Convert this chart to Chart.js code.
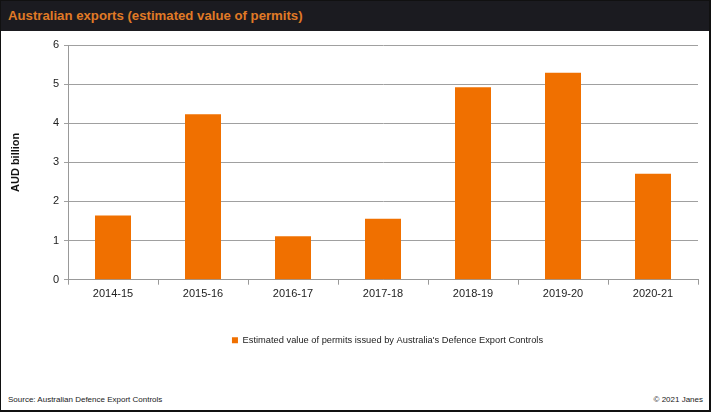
<!DOCTYPE html>
<html>
  <head>
    <meta charset="UTF-8" />
    <title>Australian exports (estimated value of permits)</title>
    <style>
      html, body { margin: 0; padding: 0; background: #fff; }
      #frame {
        position: relative;
        width: 711px;
        height: 412px;
        box-sizing: border-box;
        border: 1px solid #111;
        border-right-width: 2px;
        border-bottom-width: 2px;
        font-family: "Liberation Sans", Arial, sans-serif;
        overflow: hidden;
      }
      #header {
        position: absolute;
        left: 0; top: 0; right: 0;
        height: 30px;
        background: #1b1b20;
      }
      #header h1 {
        margin: 0;
        padding: 7px 0 0 7px;
        font-size: 13.2px;
        font-weight: bold;
        color: #e07a26;
        line-height: 16px;
      }
      #chartBox {
        position: absolute;
        left: 0; top: 29px;
        width: 708px;
        height: 340px;
      }
      .foot {
        position: absolute;
        top: 394px;
        font-size: 8px;
        color: #222;
      }
      #source { left: 7px; }
      #copy { right: 6px; }
    </style>
  </head>
  <body>
    <div id="frame">
      <div id="header"><h1>Australian exports (estimated value of permits)</h1></div>
      <div id="chartBox"><canvas id="chart"></canvas></div>
      <div class="foot" id="source">Source: Australian Defence Export Controls</div>
      <div class="foot" id="copy">© 2021 Janes</div>
    </div>
    <script src="https://cdn.jsdelivr.net/npm/chart.js"></script>
    <script>
      // Data
      const years = ['2014-15', '2015-16', '2016-17', '2017-18', '2018-19', '2019-20', '2020-21'];
      const permitValues = [1.64, 4.23, 1.11, 1.56, 4.92, 5.29, 2.71];
      const yTicks = [0, 1, 2, 3, 4, 5, 6];
      const seriesName = "Estimated value of permits issued by Australia's Defence Export Controls";

      // Legend in the original sits a bit right of centre
      const shiftLegend = {
        id: 'shiftLegend',
        afterLayout(chart) {
          chart.legend.left += 38;
          chart.legend.right += 38;
        },
      };

      const ctx = document.getElementById('chart').getContext('2d');
      const exportsChart = new Chart(ctx, {
        type: 'bar',
        data: {
          labels: years,
          datasets: [
            {
              label: seriesName,
              data: permitValues,
              backgroundColor: '#f07000',
              borderWidth: 0,
              categoryPercentage: 1,
              barPercentage: 0.4,
            },
          ],
        },
        options: {
          responsive: true,
          maintainAspectRatio: false,
          animation: false,
          layout: { padding: { left: 0, right: 11, top: 15, bottom: 15 } },
          scales: {
            x: {
              grid: {
                drawOnChartArea: false, // only tick marks below axis
                offset: true,
                tickLength: 5,
                color: '#999',
              },
              border: { color: '#999' },
              ticks: {
                color: '#222',
                font: { family: 'Liberation Sans', size: 11 },
                padding: 3,
              },
              afterFit: (s) => { s.height = 46; },
            },
            y: {
              min: 0,
              max: 6,
              afterBuildTicks: (s) => { s.ticks = yTicks.map((v) => ({ value: v })); },
              grid: { color: '#a0a0a0', tickLength: 4 },
              border: { color: '#999' },
              ticks: {
                color: '#222',
                font: { family: 'Liberation Sans', size: 11 },
                padding: 5,
              },
              title: {
                display: true,
                text: 'AUD billion',
                color: '#111',
                font: { family: 'Liberation Sans', size: 11, weight: 'bold' },
                padding: { top: 8, bottom: 0 },
              },
              afterFit: (s) => { s.width = 67; },
            },
          },
          plugins: {
            legend: {
              position: 'bottom',
              labels: {
                boxWidth: 6,
                boxHeight: 6,
                padding: 10,
                color: '#222',
                font: { family: 'Liberation Sans', size: 9.3 },
              },
            },
            tooltip: { enabled: false },
          },
        },
        plugins: [shiftLegend],
      });
    </script>
  </body>
</html>
